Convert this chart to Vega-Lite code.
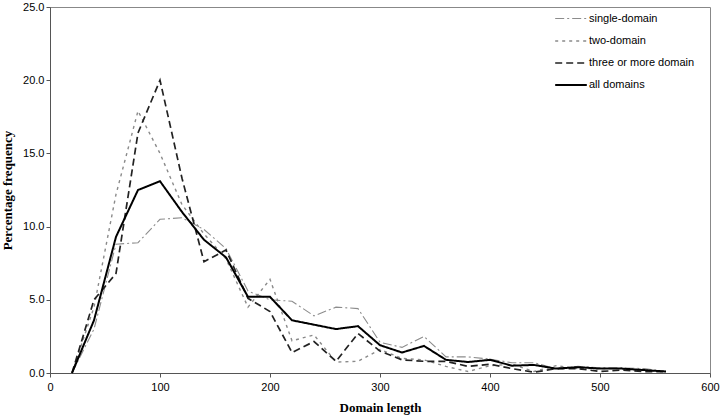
{
  "$schema": "https://vega.github.io/schema/vega-lite/v6.json",
  "autosize": {"type": "none"},
  "padding": {"left": 50, "top": 7, "right": 10, "bottom": 46},
  "width": 660,
  "height": 366,
  "background": "white",
  "config": {
    "view": {"stroke": "#888", "strokeWidth": 1},
    "font": "Liberation Sans"
  },
  "datasets": {
    "d": [
      {"len":20,"s":"single-domain","p":0},{"len":40,"s":"single-domain","p":3.0},{"len":60,"s":"single-domain","p":8.8},{"len":80,"s":"single-domain","p":8.9},{"len":100,"s":"single-domain","p":10.5},{"len":120,"s":"single-domain","p":10.6},{"len":140,"s":"single-domain","p":9.8},{"len":160,"s":"single-domain","p":8.5},{"len":180,"s":"single-domain","p":5.6},{"len":200,"s":"single-domain","p":5.0},{"len":220,"s":"single-domain","p":4.9},{"len":240,"s":"single-domain","p":3.9},{"len":260,"s":"single-domain","p":4.5},{"len":280,"s":"single-domain","p":4.4},{"len":300,"s":"single-domain","p":2.1},{"len":320,"s":"single-domain","p":1.75},{"len":340,"s":"single-domain","p":2.5},{"len":360,"s":"single-domain","p":1.1},{"len":380,"s":"single-domain","p":1.1},{"len":400,"s":"single-domain","p":0.95},{"len":420,"s":"single-domain","p":0.7},{"len":440,"s":"single-domain","p":0.7},{"len":460,"s":"single-domain","p":0.3},{"len":480,"s":"single-domain","p":0.45},{"len":500,"s":"single-domain","p":0.35},{"len":520,"s":"single-domain","p":0.35},{"len":540,"s":"single-domain","p":0.3},{"len":560,"s":"single-domain","p":0.1},
      {"len":20,"s":"two-domain","p":0},{"len":40,"s":"two-domain","p":4.5},{"len":60,"s":"two-domain","p":12.2},{"len":80,"s":"two-domain","p":17.9},{"len":100,"s":"two-domain","p":15.0},{"len":120,"s":"two-domain","p":11.5},{"len":140,"s":"two-domain","p":9.5},{"len":160,"s":"two-domain","p":7.8},{"len":180,"s":"two-domain","p":4.5},{"len":200,"s":"two-domain","p":6.4},{"len":220,"s":"two-domain","p":2.2},{"len":240,"s":"two-domain","p":2.6},{"len":260,"s":"two-domain","p":0.75},{"len":280,"s":"two-domain","p":0.8},{"len":300,"s":"two-domain","p":1.6},{"len":320,"s":"two-domain","p":1.0},{"len":340,"s":"two-domain","p":0.9},{"len":360,"s":"two-domain","p":0.45},{"len":380,"s":"two-domain","p":0.1},{"len":400,"s":"two-domain","p":0.5},{"len":420,"s":"two-domain","p":0.6},{"len":440,"s":"two-domain","p":0.1},{"len":460,"s":"two-domain","p":0.5},{"len":480,"s":"two-domain","p":0.3},{"len":500,"s":"two-domain","p":0.3},{"len":520,"s":"two-domain","p":0.3},{"len":540,"s":"two-domain","p":0.2},{"len":560,"s":"two-domain","p":0.1},
      {"len":20,"s":"three or more domain","p":0},{"len":40,"s":"three or more domain","p":5.0},{"len":60,"s":"three or more domain","p":6.8},{"len":80,"s":"three or more domain","p":16.4},{"len":100,"s":"three or more domain","p":20.0},{"len":120,"s":"three or more domain","p":13.3},{"len":140,"s":"three or more domain","p":7.6},{"len":160,"s":"three or more domain","p":8.4},{"len":180,"s":"three or more domain","p":5.1},{"len":200,"s":"three or more domain","p":4.2},{"len":220,"s":"three or more domain","p":1.4},{"len":240,"s":"three or more domain","p":2.15},{"len":260,"s":"three or more domain","p":0.8},{"len":280,"s":"three or more domain","p":2.7},{"len":300,"s":"three or more domain","p":1.5},{"len":320,"s":"three or more domain","p":0.9},{"len":340,"s":"three or more domain","p":0.8},{"len":360,"s":"three or more domain","p":0.8},{"len":380,"s":"three or more domain","p":0.45},{"len":400,"s":"three or more domain","p":0.6},{"len":420,"s":"three or more domain","p":0.3},{"len":440,"s":"three or more domain","p":0.05},{"len":460,"s":"three or more domain","p":0.3},{"len":480,"s":"three or more domain","p":0.3},{"len":500,"s":"three or more domain","p":0.1},{"len":520,"s":"three or more domain","p":0.2},{"len":540,"s":"three or more domain","p":0.1},{"len":560,"s":"three or more domain","p":0.1},
      {"len":20,"s":"all domains","p":0},{"len":40,"s":"all domains","p":3.6},{"len":60,"s":"all domains","p":9.3},{"len":80,"s":"all domains","p":12.5},{"len":100,"s":"all domains","p":13.1},{"len":120,"s":"all domains","p":11.0},{"len":140,"s":"all domains","p":9.1},{"len":160,"s":"all domains","p":7.9},{"len":180,"s":"all domains","p":5.2},{"len":200,"s":"all domains","p":5.2},{"len":220,"s":"all domains","p":3.6},{"len":240,"s":"all domains","p":3.3},{"len":260,"s":"all domains","p":3.0},{"len":280,"s":"all domains","p":3.2},{"len":300,"s":"all domains","p":1.9},{"len":320,"s":"all domains","p":1.4},{"len":340,"s":"all domains","p":1.85},{"len":360,"s":"all domains","p":0.9},{"len":380,"s":"all domains","p":0.75},{"len":400,"s":"all domains","p":0.9},{"len":420,"s":"all domains","p":0.5},{"len":440,"s":"all domains","p":0.55},{"len":460,"s":"all domains","p":0.3},{"len":480,"s":"all domains","p":0.4},{"len":500,"s":"all domains","p":0.3},{"len":520,"s":"all domains","p":0.3},{"len":540,"s":"all domains","p":0.2},{"len":560,"s":"all domains","p":0.1}
    ]
  },
  "data": {"name": "d"},
  "mark": {"type": "line", "strokeJoin": "miter"},
  "encoding": {
    "x": {
      "field": "len", "type": "quantitative",
      "scale": {"domain": [0, 600], "nice": false},
      "axis": {
        "values": [0, 100, 200, 300, 400, 500, 600],
        "title": "Domain length",
        "titleFont": "Liberation Serif", "titleFontSize": 13, "titleFontWeight": "bold",
        "titlePadding": 9,
        "labelFont": "Liberation Sans", "labelFontSize": 11, "labelColor": "#000",
        "labelPadding": 4, "labelFlush": false,
        "grid": false, "domainColor": "#555", "tickColor": "#555", "tickSize": 4
      }
    },
    "y": {
      "field": "p", "type": "quantitative",
      "scale": {"domain": [0, 25], "nice": false},
      "axis": {
        "values": [0, 5, 10, 15, 20, 25],
        "format": ".1f",
        "title": "Percentage frequency",
        "titleFont": "Liberation Serif", "titleFontSize": 13, "titleFontWeight": "bold",
        "titlePadding": 8,
        "labelFont": "Liberation Sans", "labelFontSize": 11, "labelColor": "#000",
        "labelFlush": false,
        "grid": false, "domainColor": "#555", "tickColor": "#555", "tickSize": 4
      }
    },
    "color": {
      "field": "s", "type": "nominal",
      "scale": {
        "domain": ["single-domain", "two-domain", "three or more domain", "all domains"],
        "range": ["#8c8c8c", "#8a8a8a", "#222222", "#000000"]
      },
      "legend": {
        "orient": "none", "legendX": 504, "legendY": -5,
        "title": null, "symbolType": "stroke", "symbolSize": 1000,
        "labelFont": "Liberation Sans", "labelFontSize": 11, "labelColor": "#000",
        "rowPadding": 0, "labelOffset": 1, "symbolStrokeWidth": 1.5
      }
    },
    "strokeDash": {
      "field": "s", "type": "nominal",
      "scale": {
        "domain": ["single-domain", "two-domain", "three or more domain", "all domains"],
        "range": [[9, 3, 2, 3], [3, 4], [7, 4], [1, 0]]
      },
      "legend": null
    },
    "strokeWidth": {
      "field": "s", "type": "nominal",
      "scale": {
        "domain": ["single-domain", "two-domain", "three or more domain", "all domains"],
        "range": [1.1, 2, 1.3, 2]
      },
      "legend": null
    }
  }
}
